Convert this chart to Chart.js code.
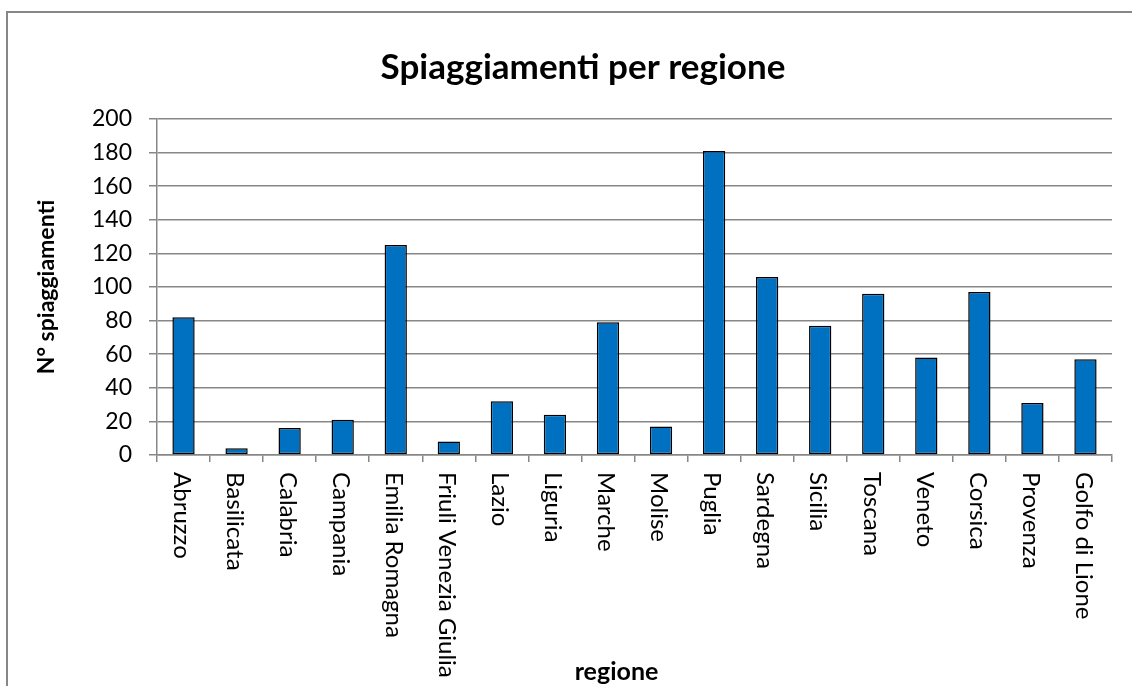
<!DOCTYPE html>
<html>
<head>
<meta charset="utf-8">
<title>Spiaggiamenti per regione</title>
<script src="https://cdn.jsdelivr.net/npm/chart.js@4.4.1/dist/chart.umd.min.js"></script>
<style>
  html, body { margin: 0; padding: 0; background: #fff; }
  #wrap { position: relative; width: 1132px; height: 686px; overflow: hidden; }
  #frame {
    position: absolute; left: 6px; top: 11px; right: -10px; bottom: -10px;
    border-top: 2px solid #878787; border-left: 2px solid #878787;
    pointer-events: none;
  }
  canvas { position: absolute; left: 0; top: 0; }
</style>
</head>
<body>
<div id="wrap">
  <canvas id="regionChart" width="1132" height="686"></canvas>
  <div id="frame"></div>
</div>
<script>
// strandings counted per region
const regions = [
  'Abruzzo', 'Basilicata', 'Calabria', 'Campania', 'Emilia Romagna',
  'Friuli Venezia Giulia', 'Lazio', 'Liguria', 'Marche', 'Molise',
  'Puglia', 'Sardegna', 'Sicilia', 'Toscana', 'Veneto',
  'Corsica', 'Provenza', 'Golfo di Lione'
];
const strandings = [82, 4, 16, 21, 125, 8, 32, 24, 79, 17, 181, 106, 77, 96, 58, 97, 31, 57];

const yMax = 200;
const yStep = 20;

const GRID = '#878787';
const FONT = 'Lato';
const X_TITLE = 'regione';

// category labels read top-to-bottom (rotated clockwise) under each tick,
// plus the x axis title sitting a little left of centre
const rotatedLabels = {
  id: 'rotatedLabels',
  afterDraw(chart) {
    const xs = chart.scales.x;
    const ctx = chart.ctx;
    ctx.save();
    ctx.font = '24px ' + FONT;
    ctx.fillStyle = '#000';
    ctx.textAlign = 'left';
    ctx.textBaseline = 'middle';
    chart.data.labels.forEach((label, i) => {
      const x = xs.getPixelForValue(i);
      ctx.save();
      ctx.translate(x - 2, xs.top + 17);
      ctx.rotate(Math.PI / 2);
      ctx.fillText(label, 0, 0);
      ctx.restore();
    });

    ctx.font = 'bold 25px ' + FONT;
    ctx.textAlign = 'center';
    ctx.fillText(X_TITLE, (xs.left + xs.right) / 2 - 18, xs.bottom - 14);
    ctx.restore();
  }
};

new Chart(document.getElementById('regionChart'), {
  type: 'bar',
  data: {
    labels: regions,
    datasets: [{
      data: strandings,
      backgroundColor: '#0070C0',
      borderColor: '#000',
      borderWidth: 1.5,
      borderSkipped: false,
      categoryPercentage: 1,
      barPercentage: 0.42
    }]
  },
  options: {
    responsive: false,
    animation: false,
    // left padding also pushes the centred title to the right
    layout: { padding: { left: 54, right: 20, top: 0, bottom: 0 } },
    plugins: {
      legend: { display: false },
      tooltip: { enabled: false },
      title: {
        display: true,
        text: 'Spiaggiamenti per regione',
        color: '#000',
        font: { family: FONT, size: 35, weight: 'bold', lineHeight: 1.2 },
        padding: { top: 47, bottom: 30 }
      }
    },
    scales: {
      x: {
        grid: {
          display: true,
          drawOnChartArea: false,
          drawTicks: true,
          tickLength: 7,
          offset: true,
          color: GRID,
          lineWidth: 1.5
        },
        border: { display: true, color: GRID, width: 1.5 },
        ticks: { display: false },
        afterFit(scale) { scale.height = 231; }
      },
      y: {
        min: 0,
        max: yMax,
        ticks: {
          stepSize: yStep,
          color: '#000',
          font: { family: FONT, size: 23 },
          padding: 17
        },
        grid: { color: GRID, lineWidth: 1.5, tickLength: 8 },
        border: { color: GRID, width: 1.5 },
        title: {
          display: true,
          text: 'N° spiaggiamenti',
          color: '#000',
          font: { family: FONT, size: 23, weight: 'bold', lineHeight: 1.2 },
          padding: { top: -21, bottom: 0 }
        },
        afterFit(scale) { scale.width = 103; }
      }
    }
  },
  plugins: [rotatedLabels]
});
</script>
</body>
</html>
